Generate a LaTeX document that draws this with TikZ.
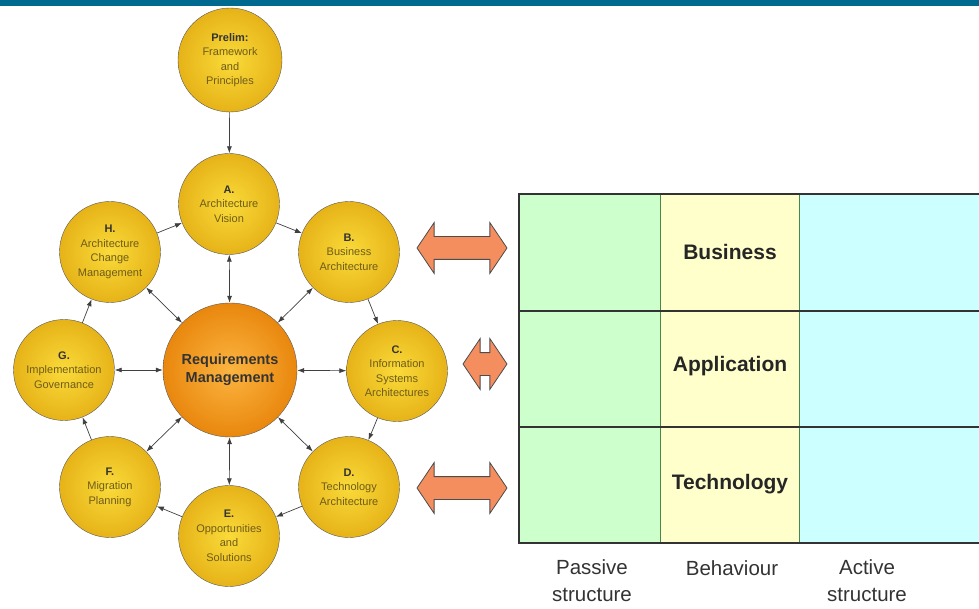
\documentclass[tikz,border=0pt]{standalone}
\usepackage{fontspec}
\setmainfont{Liberation Sans}
\usetikzlibrary{shapes.geometric, shapes.arrows, arrows.meta}
\definecolor{bandblue}{HTML}{00698F}
\definecolor{phaseinner}{HTML}{FADA3A}
\definecolor{phaseouter}{HTML}{E6B318}
\definecolor{reqinner}{HTML}{FBB540}
\definecolor{reqouter}{HTML}{E9870E}
\definecolor{subtext}{HTML}{6E5C18}
\definecolor{arrowfill}{HTML}{F58E5F}
\definecolor{passivecol}{HTML}{CCFFCC}
\definecolor{behavcol}{HTML}{FFFFCC}
\definecolor{activecol}{HTML}{CCFFFF}
\tikzstyle{phase} = [circle, draw=black!65, inner sep=0pt, minimum size=101pt,
    shading=radial, inner color=phaseinner, outer color=phaseouter,
    align=center, text=subtext, font=\fontsize{11}{14.5}\selectfont]
\tikzstyle{req} = [circle, draw=black!65, inner sep=0pt, minimum size=134pt,
    shading=radial, inner color=reqinner, outer color=reqouter,
    align=center, text=black!80, font=\fontsize{14.5}{18}\selectfont\bfseries]
\tikzstyle{line} = [draw, black!75, line width=0.7pt, -{Latex[length=7pt, width=5pt]}]
\tikzstyle{both} = [draw, black!75, line width=0.7pt,
    {Latex[length=7pt, width=5pt]}-{Latex[length=7pt, width=5pt]}]
\tikzstyle{block} = [double arrow, draw=black!70, fill=arrowfill, line width=0.8pt,
    inner xsep=0pt, inner ysep=11pt, minimum width=50pt, double arrow head extend=14pt,
    double arrow tip angle=112]
\tikzstyle{layer} = [font=\fontsize{21}{26}\selectfont\bfseries, text=black!85]
\tikzstyle{aspect} = [align=center, font=\fontsize{20.5}{27}\selectfont, text=black!80]
\newcommand{\ttl}[1]{{\color{black!80}\bfseries #1}}

\begin{document}
\begin{tikzpicture}[x=1pt, y=-1pt]
    \useasboundingbox (0,0) rectangle (979,609);
    \fill[bandblue] (0,0) rectangle (979,6);
    % Place nodes
    \node [phase, minimum size=104pt] (prelim) at (230,60) {\ttl{Prelim:}\\Framework\\and\\Principles};
    \node [phase] (a) at (229,204) {\ttl{A.}\\Architecture\\Vision};
    \node [phase] (b) at (349,252) {\ttl{B.}\\Business\\Architecture};
    \node [phase] (c) at (397,371) {\ttl{C.}\\Information\\Systems\\Architectures};
    \node [phase] (d) at (349,487) {\ttl{D.}\\Technology\\Architecture};
    \node [phase] (e) at (229,536) {\ttl{E.}\\Opportunities\\and\\Solutions};
    \node [phase] (f) at (110,487) {\ttl{F.}\\Migration\\Planning};
    \node [phase] (g) at (64,370) {\ttl{G.}\\Implementation\\Governance};
    \node [phase] (h) at (110,252) {\ttl{H.}\\Architecture\\Change\\Management};
    \node [req] (reqs) at (230,370) {Requirements\\Management};
    % Draw edges
    \path [line] (prelim) -- (a);
    \foreach \from/\to in {a/b, b/c, c/d, d/e, e/f, f/g, g/h, h/a}
        \path [line] (\from) -- (\to);
    \foreach \to in {a, b, c, d, e, f, g, h}
        \path [both] (reqs) -- (\to);
    % Layers
    \fill[passivecol] (519,194) rectangle (660,543);
    \fill[behavcol] (660,194) rectangle (799,543);
    \fill[activecol] (799,194) rectangle (979,543);
    \draw[black!45!green!40!gray, line width=1pt] (660,194) -- (660,543) (799,194) -- (799,543);
    \draw[black!80, line width=1.3pt] (979,194) -- (519,194) -- (519,543) -- (979,543)
        (519,311) -- (979,311) (519,427) -- (979,427);
    \node [layer] (business) at (730,252) {Business};
    \node [layer] (application) at (730,366) {Application};
    \node [layer] (technology) at (730,484) {Technology};
    \node [aspect] (passive) at (592,581) {Passive\\structure};
    \node [aspect] (behaviour) at (732,568) {Behaviour};
    \node [aspect] (active) at (867,581) {Active\\structure};
    % Mapping arrows
    \node [block, minimum height=90pt] (map1) at (462,248) {};
    \node [block, minimum height=44pt] (map2) at (485,364) {};
    \node [block, minimum height=90pt] (map3) at (462,488) {};
\end{tikzpicture}
\end{document}
